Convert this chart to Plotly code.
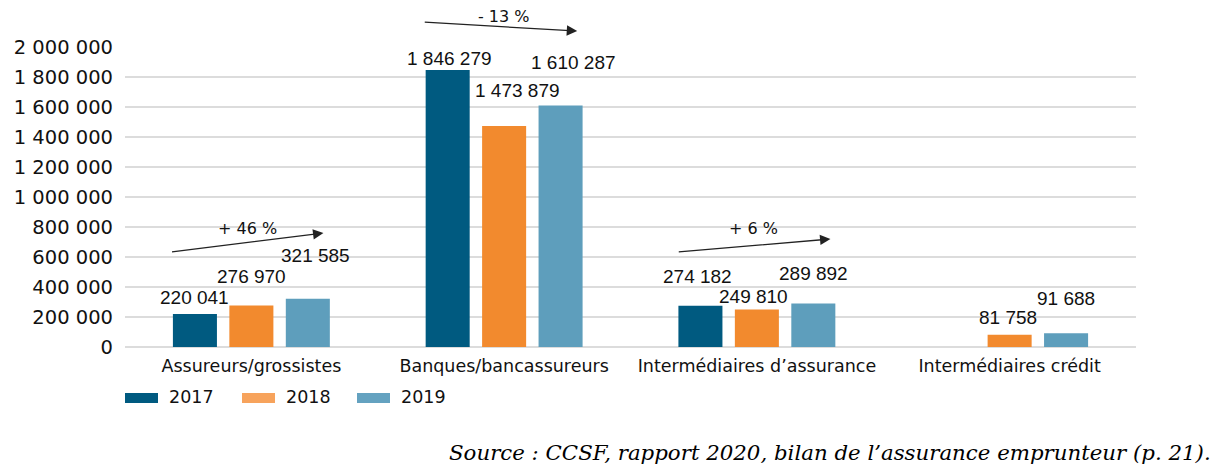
import plotly.graph_objects as go

# ---------------- data ----------------
categories = ["Assureurs/grossistes", "Banques/bancassureurs",
              "Intermédiaires d’assurance", "Intermédiaires crédit"]
years = ["2017", "2018", "2019"]
values_2017 = [220041, 1846279, 274182, None]
values_2018 = [276970, 1473879, 249810, 81758]
values_2019 = [321585, 1610287, 289892, 91688]
y_ticks = [0, 200000, 400000, 600000, 800000, 1000000,
           1200000, 1400000, 1600000, 1800000, 2000000]
trend_labels = ["+ 46 %", "- 13 %", "+ 6 %"]
source_text = "Source : CCSF, rapport 2020, bilan de l’assurance emprunteur (p. 21)."

series = [values_2017, values_2018, values_2019]

# ---------------- styles ----------------
bar_colors = ["#005A80", "#F28A2E", "#5E9EBC"]
legend_colors = ["#005A80", "#F7A35C", "#64A2C0"]
sans = "DejaVu Sans"
label_font = "Liberation Sans"
text_color = "#111111"
grid_color = "#DCDCDC"

W, H = 1219, 473
ML, MT = 125, 47
MR = W - 1136
MB = H - 347
PW, PH = W - ML - MR, H - MT - MB
Y_MAX = 2000000

def px_x(p):  # screen px -> paper
    return (p - ML) / PW

def px_y(p):
    return (H - MB - p) / PH

# per-series bar offset inside a group (px) and label tweaks (px)
bar_dx = [-56.5, 0, 56.5]
label_dx = [[0, 0, 8], [2, 13, 13], [-3, -3, 0], [0, -2, 0]]
label_dy = [[16, 28.5, 43], [12, 35, 42.5], [29, 13.5, 30.5], [0, 17, 35]]

fig = go.Figure()
for i, (name, vals) in enumerate(zip(years, series)):
    fig.add_trace(go.Bar(
        x=categories, y=vals, name=name,
        marker=dict(color=bar_colors[i], line=dict(width=0)),
        showlegend=False, hoverinfo="skip",
    ))

annotations = []
def fmt(v):
    return f"{v:,}".replace(",", " ")

for i, vals in enumerate(series):
    for j, v in enumerate(vals):
        if v is None:
            continue
        annotations.append(dict(
            x=categories[j], y=v, xref="x", yref="y",
            text=fmt(v), showarrow=False,
            xshift=bar_dx[i] + label_dx[j][i], yshift=label_dy[j][i],
            yanchor="middle", xanchor="center",
            font=dict(family=label_font, size=19, color=text_color),
        ))

# trend arrows (category-index / value units)
arrows = [  # (tail_x, tail_y, head_x, head_y, text_x, text_y)
    (-0.320, 633000, 0.285, 760000, -0.016, 793000),
    (0.680, 2166000, 1.289, 2106000, 1.000, 2206000),
    (1.685, 633000, 2.291, 720000, 1.986, 793000),
]
for lab, (tx, ty, hx, hy, lx, ly) in zip(trend_labels, arrows):
    annotations.append(dict(
        x=hx, y=hy / Y_MAX, ax=tx, ay=ty / Y_MAX,
        xref="x", yref="y domain", axref="x", ayref="y domain",
        text="", showarrow=True, arrowhead=2, arrowsize=1.6,
        arrowwidth=1.3, arrowcolor="#222222",
    ))
    annotations.append(dict(
        x=lx, y=ly / Y_MAX, xref="x", yref="y domain", text=lab,
        showarrow=False, xanchor="center", yanchor="middle",
        font=dict(family=sans, size=16, color=text_color),
    ))

# custom legend
shapes = []
legend_x = [125, 242, 357]
for i, name in enumerate(years):
    x0 = legend_x[i]
    shapes.append(dict(
        type="rect", xref="paper", yref="paper",
        x0=px_x(x0), x1=px_x(x0 + 33), y0=px_y(403), y1=px_y(393),
        fillcolor=legend_colors[i], line=dict(width=0),
    ))
    annotations.append(dict(
        x=px_x(x0 + 42), y=px_y(397), xref="paper", yref="paper",
        text=name, showarrow=False, xanchor="left", yanchor="middle",
        font=dict(family=sans, size=17.5, color=text_color),
    ))

annotations.append(dict(
    x=px_x(1213), y=px_y(452), xref="paper", yref="paper",
    text=f"<i>{source_text}</i>", showarrow=False,
    xanchor="right", yanchor="middle",
    font=dict(family="DejaVu Serif", size=21.3, color="#000000"),
))

fig.update_layout(
    width=W, height=H,
    margin=dict(l=ML, r=MR, t=MT, b=MB, pad=0),
    paper_bgcolor="white", plot_bgcolor="white",
    barmode="group", bargap=0.33, bargroupgap=0.22,
    separators=", ",
    annotations=annotations, shapes=shapes,
    showlegend=False, hovermode=False,
    xaxis=dict(
        type="category", showgrid=False, showline=False, ticks="",
        tickfont=dict(family=sans, size=17.5, color=text_color),
        ticklabelstandoff=6,
    ),
    yaxis=dict(
        range=[0, Y_MAX], tickvals=y_ticks, tickformat=",d",
        showgrid=True, gridcolor=grid_color, gridwidth=2,
        zeroline=True, zerolinecolor=grid_color, zerolinewidth=2,
        showline=False, ticks="",
        tickfont=dict(family=sans, size=19.5, color=text_color),
        ticklabelstandoff=11,
    ),
)

fig.write_html(
    "out.html",
    config={"displayModeBar": False},
    post_script="document.body.style.margin='0';document.body.style.overflow='hidden';",
)
